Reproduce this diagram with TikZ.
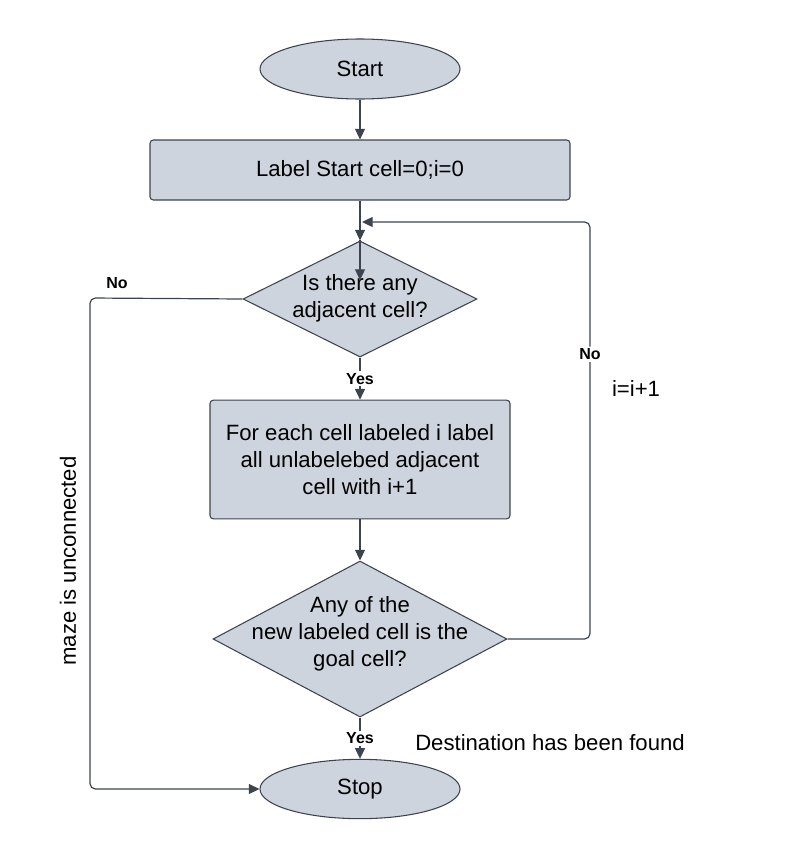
\documentclass[tikz,border=0pt]{standalone}
\usepackage{fontspec}
\setmainfont{Liberation Sans}
\usetikzlibrary{shapes.geometric,arrows.meta}
\definecolor{shapefill}{RGB}{206,212,221}
\definecolor{shapeline}{RGB}{62,68,78}
\definecolor{conn}{RGB}{62,68,78}
\begin{document}
\begin{tikzpicture}[x=0.75pt,y=-0.75pt,
  every node/.style={font=\fontsize{16.6}{20.3}\selectfont, text=black},
  term/.style={ellipse, draw=shapeline, fill=shapefill, line width=0.8pt, minimum width=150pt, minimum height=45pt, inner sep=0pt},
  procbox/.style={rectangle, rounded corners=2.5pt, draw=shapeline, fill=shapefill, line width=0.8pt, inner sep=0pt},
  decision/.style={diamond, draw=shapeline, fill=shapefill, line width=0.8pt, inner sep=0pt},
  arr/.style={draw=conn, line width=0.9pt, -{Triangle[length=8pt,width=7.5pt]}},
  plain/.style={draw=conn, line width=0.9pt},
  yn/.style={font=\fontsize{12}{14}\selectfont\bfseries, fill=white, inner sep=1.5pt}
]
\useasboundingbox (0,0) rectangle (796,860);

\node[term] (start) at (360,69) {Start};
\node[procbox, minimum width=315pt, minimum height=45pt] (box1) at (360,170) {Label Start cell=0;i=0};
\node[decision, minimum width=175.5pt, minimum height=87pt] (d1) at (360,299) {};
\node[align=center] (d1t) at (360,298) {Is there any\\adjacent cell?};
\node[procbox, minimum width=225pt, minimum height=89pt, align=center] (box2) at (360,459.5) {For each cell labeled i label\\all unlabelebed adjacent\\cell with i+1};
\node[decision, minimum width=220.5pt, minimum height=117pt] (d2) at (360,639) {};
\node[align=center] (d2t) at (360,634) {Any of the\\new labeled cell is the\\goal cell?};
\node[term, minimum height=44.5pt] (stop) at (360,789) {Stop};

\coordinate (inner) at (360,280);
\coordinate (loopend) at (362,222);
\coordinate (lefttop) at (90,298);
\coordinate (leftbot) at (90,789);
\coordinate (rightbot) at (590,639);
\coordinate (righttop) at (590,222);

\draw[arr] (start) -- (box1);
\draw[arr] (box1) -- (d1.north);
\draw[arr] (d1.north) -- (inner);
\draw[arr] (d1.south) -- node[yn] (yes1) {Yes} (box2.north);
\draw[arr] (box2) -- (d2.north);
\draw[arr] (d2.south) -- node[yn] (yes2) {Yes} (stop.north);
\draw[arr, rounded corners=4pt] (d1.west) -- (lefttop) -- (leftbot) -- (stop.west);
\draw[arr, rounded corners=4pt] (d2.east) -- (rightbot) -- node[yn, pos=0.683] (no2) {No} (righttop) -- (loopend);

\node[yn, fill=none] (no1) at (117,283) {No};
\node (inc) at (636,388) {i=i+1};
\node (dest) at (550,743) {Destination has been found};
\node[rotate=90] (maze) at (68,561) {maze is unconnected};
\end{tikzpicture}
\end{document}
